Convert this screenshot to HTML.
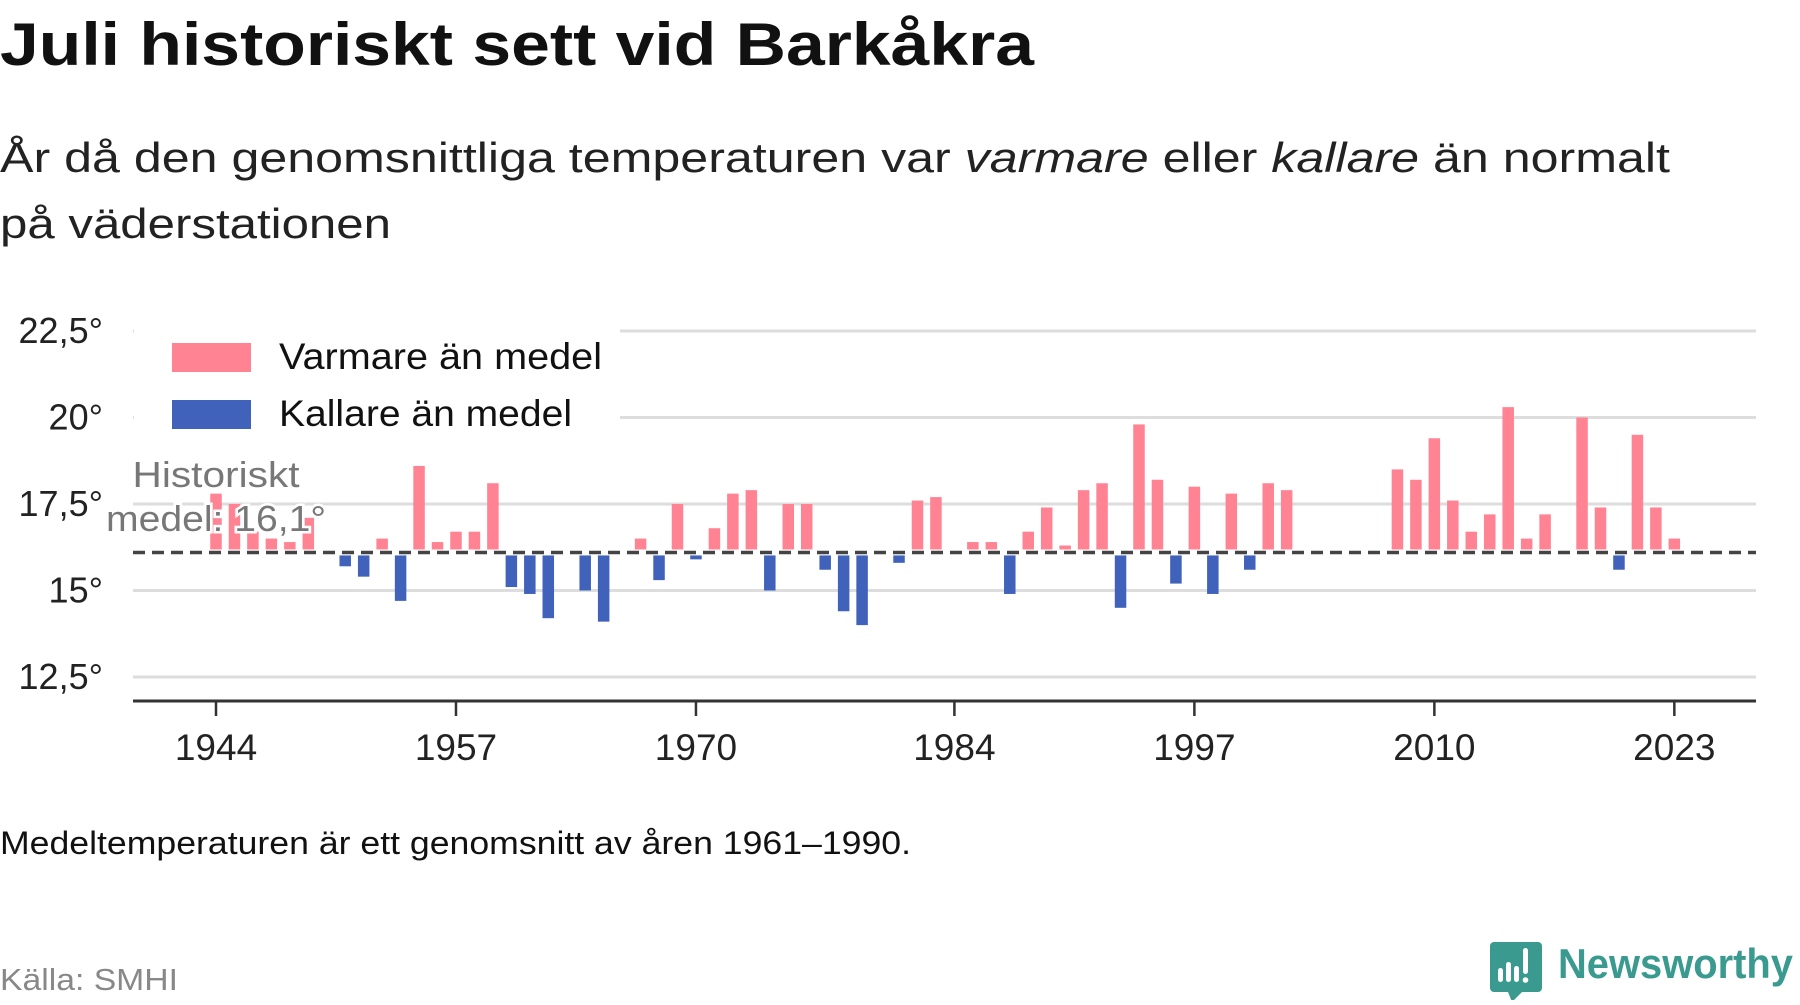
<!DOCTYPE html>
<html><head><meta charset="utf-8"><style>
html,body{margin:0;padding:0;background:#fff;}
body{width:1800px;height:1000px;overflow:hidden;font-family:"Liberation Sans","DejaVu Sans",sans-serif;}
</style></head><body>
<svg id="chart" width="1800" height="1000" viewBox="0 0 1800 1000" xmlns="http://www.w3.org/2000/svg" font-family="'Liberation Sans', 'DejaVu Sans', sans-serif">
<text x="0" y="65" font-size="60" font-weight="bold" fill="#111" textLength="1034" lengthAdjust="spacingAndGlyphs">Juli historiskt sett vid Barkåkra</text>
<text x="0" y="172" font-size="42" fill="#222" textLength="1670" lengthAdjust="spacingAndGlyphs">År då den genomsnittliga temperaturen var <tspan font-style="italic">varmare</tspan> eller <tspan font-style="italic">kallare</tspan> än normalt</text>
<text x="0" y="238" font-size="42" fill="#222" textLength="391" lengthAdjust="spacingAndGlyphs">på väderstationen</text>
<g id="grid"></g>
<g id="yticks"></g>
<g id="bars"></g>
<g id="xaxis"></g>
<g>
<rect x="134" y="322" width="486" height="116" fill="#fff"/>
<rect x="172" y="343" width="79" height="29" fill="#ff8392"/>
<text x="279" y="369" font-size="37" fill="#111" textLength="323" lengthAdjust="spacingAndGlyphs">Varmare än medel</text>
<rect x="172" y="400" width="79" height="29" fill="#4062bb"/>
<text x="279" y="426" font-size="37" fill="#111" textLength="293" lengthAdjust="spacingAndGlyphs">Kallare än medel</text>
</g>
<g id="annot"></g>
<text x="0" y="854" font-size="32" fill="#111" textLength="911" lengthAdjust="spacingAndGlyphs">Medeltemperaturen är ett genomsnitt av åren 1961–1990.</text>
<text x="0" y="990" font-size="31" fill="#888" textLength="178" lengthAdjust="spacingAndGlyphs">Källa: SMHI</text>
<g>
<path d="M1494 942 h44 a4 4 0 0 1 4 4 v42 a4 4 0 0 1 -4 4 h-16 l-10 10 l-4 -10 h-14 a4 4 0 0 1 -4 -4 v-42 a4 4 0 0 1 4 -4z" fill="#3a9a8f"/>
<rect x="1498" y="968" width="5" height="14" rx="2.5" fill="#fff"/>
<rect x="1506" y="962" width="5" height="20" rx="2.5" fill="#fff"/>
<rect x="1514" y="966" width="5" height="16" rx="2.5" fill="#fff"/>
<rect x="1523" y="948" width="5" height="26" rx="2.5" fill="#fff"/>
<circle cx="1525.5" cy="980" r="2.8" fill="#fff"/>
<text x="1558" y="978" font-size="42" font-weight="bold" fill="#3a9a8f" textLength="235" lengthAdjust="spacingAndGlyphs">Newsworthy</text>
</g>
</svg>
<script>
const years = [];
for (let y = 1944; y <= 2023; y++) years.push(y);
const temps = [
17.8,17.5,16.7,16.5,16.4,17.1,null,15.7,15.4,16.5,
14.7,18.6,16.4,16.7,16.7,18.1,15.1,14.9,14.2,null,
15.0,14.1,null,16.5,15.3,17.5,15.9,16.8,17.8,17.9,
15.0,17.5,17.5,15.6,14.4,14.0,null,15.8,17.6,17.7,
null,16.4,16.4,14.9,16.7,17.4,16.3,17.9,18.1,14.5,
19.8,18.2,15.2,18.0,14.9,17.8,15.6,18.1,17.9,null,
null,null,null,null,18.5,18.2,19.4,17.6,16.7,17.2,
20.3,16.5,17.2,null,20.0,17.4,15.6,19.5,17.4,16.5
];
const meanTemp = 16.1;
const yTicks = [12.5, 15, 17.5, 20, 22.5];
const yTickLabels = ["12,5°", "15°", "17,5°", "20°", "22,5°"];
const xTicks = [1944, 1957, 1970, 1984, 1997, 2010, 2023];

const NS = "http://www.w3.org/2000/svg";
const X0 = 133, X1 = 1756;
const yScale = v => 331 + (22.5 - v) * 34.6;
const xScale = yr => 216 + (yr - 1944) * 18.46;
function mk(tag, attrs, parent) {
  const e = document.createElementNS(NS, tag);
  for (const k in attrs) e.setAttribute(k, attrs[k]);
  parent.appendChild(e);
  return e;
}
const grid = document.getElementById('grid');
const yt = document.getElementById('yticks');
yTicks.forEach((v, i) => {
  const l = mk('line', {x1: X0, x2: X1, y1: yScale(v), y2: yScale(v), stroke: '#dddddd', 'stroke-width': 3}, grid);
  
  
  const t = mk('text', {x: 103, y: yScale(v) + 12, 'text-anchor': 'end', 'font-size': 36, fill: '#222'}, yt);
  t.textContent = yTickLabels[i];
  
  
});
const bars = document.getElementById('bars');
const bw = 11.5;
years.forEach((yr, i) => {
  const v = temps[i];
  if (v === null) return;
  const warm = v >= meanTemp;
  const top = warm ? yScale(v) : yScale(meanTemp) + 3;
  const bot = warm ? yScale(meanTemp) - 3 : yScale(v);
  const r = mk('rect', {x: xScale(yr) - bw / 2, y: top, width: bw, height: Math.max(0, bot - top), fill: warm ? '#ff8392' : '#4062bb'}, bars);
  
  
});
const ml = mk('line', {x1: X0, x2: X1, y1: yScale(meanTemp), y2: yScale(meanTemp), stroke: '#444', 'stroke-width': 3.5, 'stroke-dasharray': '12 7'}, bars);


const xa = document.getElementById('xaxis');
const al = mk('line', {x1: X0, x2: X1, y1: 701, y2: 701, stroke: '#333', 'stroke-width': 3}, xa);


xTicks.forEach(yr => {
  const tk = mk('line', {x1: xScale(yr), x2: xScale(yr), y1: 701, y2: 716, stroke: '#333', 'stroke-width': 2.5}, xa);
  
  
  const t = mk('text', {x: xScale(yr), y: 760, 'text-anchor': 'middle', 'font-size': 37, fill: '#222'}, xa);
  t.textContent = String(yr);
  
  
});
const an = document.getElementById('annot');
[["Historiskt", 487, 167], ["medel: 16,1°", 531, 220]].forEach(([s, y, w]) => {
  const t = mk('text', {x: 216 - w / 2, y: y, 'font-size': 36, fill: '#777', stroke: '#fff', 'stroke-width': 5, 'paint-order': 'stroke', textLength: w, lengthAdjust: 'spacingAndGlyphs'}, an);
  t.textContent = s;
  
  
});
</script>
</body></html>
